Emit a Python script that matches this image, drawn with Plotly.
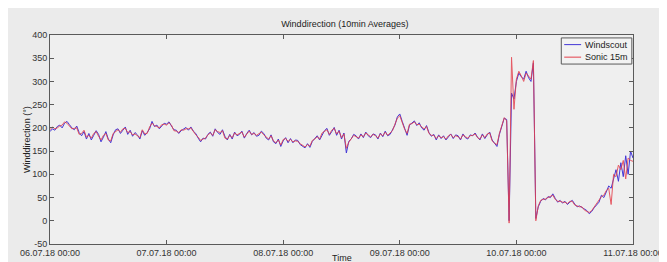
import pandas as pd
import plotly.graph_objects as go

# 30-minute samples, 06.07.18 00:00 -> 11.07.18 00:00
windscout_day1 = [192,198, 195,203, 206,200, 210,214, 207,200, 196,204, 190,183, 192,176, 188,174, 184,194, 186,170, 180,192,
                  176,168, 185,196, 198,188, 195,202, 186,195, 182,190, 185,176, 194,184, 190,198, 214,203, 206,198, 204,210]
windscout_day2 = [208,213, 204,196, 195,188, 194,198, 201,195, 202,193, 188,178, 170,178, 176,186, 191,182, 198,190, 186,196,
                  182,174, 186,176, 191,183, 186,193, 178,188, 195,185, 190,182, 184,193, 188,178, 174,185, 170,166, 176,160]
windscout_day3 = [172,179, 168,177, 168,174, 173,164, 160,157, 166,158, 171,178, 183,174, 186,194, 199,184, 192,201, 184,195,
                  176,189, 146,171, 176,186, 183,176, 187,179, 191,183, 179,187, 185,176, 189,181, 193,183, 186,196, 206,224]
windscout_day4 = [230,214, 198,184, 206,211, 215,205, 211,200, 195,205, 190,182, 186,174, 185,177, 183,174, 180,187, 177,185,
                  183,174, 187,179, 176,185, 183,189, 180,174, 187,177, 185,191, 174,168, 160,186, 206,221, 218,0, 275,262]
windscout_day5 = [300,318, 310,305, 322,308, 300,340, 5,30, 42,48, 45,52, 50,58, 48,40, 44,38, 42,35, 40,44,
                  36,30, 32,28, 25,22, 15,20, 28,35, 40,55, 50,62, 75,70, 90,110, 85,125, 95,140, 100,150, 135]

sonic_day1 = [196,202, 198,200, 204,206, 213,210, 204,198, 199,200, 186,188, 195,180, 184,178, 188,192, 182,174, 184,188,
              174,172, 188,192, 196,191, 198,199, 190,192, 185,187, 182,179, 196,187, 188,202, 210,205, 203,200, 207,208]
sonic_day2 = [206,211, 206,194, 193,190, 196,195, 198,198, 200,191, 185,180, 173,176, 178,185, 189,184, 196,192, 190,194,
              178,176, 184,179, 189,185, 188,191, 180,187, 193,186, 188,184, 187,191, 185,180, 176,183, 172,168, 174,163]
sonic_day3 = [175,177, 171,175, 170,172, 171,166, 162,159, 164,161, 173,176, 181,176, 189,192, 196,186, 195,199, 187,193,
              179,187, 156,169, 178,184, 181,178, 185,181, 189,185, 181,186, 183,178, 187,183, 191,184, 188,194, 208,221]
sonic_day4 = [226,212, 197,188, 208,209, 213,207, 208,202, 198,203, 188,184, 184,177, 183,179, 181,176, 183,186, 179,183,
              181,176, 185,181, 178,183, 184,187, 179,176, 185,179, 187,189, 172,167, 164,188, 208,222, 215,-5, 352,240]
sonic_day5 = [305,322, 312,300, 318,312, 305,345, 0,32, 44,46, 47,50, 52,55, 46,42, 42,40, 40,37, 42,42,
              34,32, 30,30, 23,20, 18,22, 30,38, 45,52, 55,65, 70,35, 100,95, 120,110, 130,90, 135,130, 128]

windscout = windscout_day1 + windscout_day2 + windscout_day3 + windscout_day4 + windscout_day5
sonic = sonic_day1 + sonic_day2 + sonic_day3 + sonic_day4 + sonic_day5

series_names = ["Windscout", "Sonic 15m"]
tick_dates = ["2018-07-06", "2018-07-07", "2018-07-08", "2018-07-09", "2018-07-10", "2018-07-11"]
tick_labels = ["06.07.18 00:00", "07.07.18 00:00", "08.07.18 00:00", "09.07.18 00:00", "10.07.18 00:00", "11.07.18 00:00"]
y_ticks = [-50, 0, 50, 100, 150, 200, 250, 300, 350, 400]

times = pd.date_range("2018-07-06 00:00", periods=len(windscout), freq="30min")

FONT = "Liberation Sans, Arial, sans-serif"
AX = "#5a5a5a"
BLUE = "#4336d6"
RED = "#e5404c"

fig = go.Figure()
fig.add_trace(go.Scatter(x=times, y=windscout, mode="lines", name=series_names[0],
                         line=dict(color=BLUE, width=1), showlegend=False))
fig.add_trace(go.Scatter(x=times[:len(sonic)], y=sonic, mode="lines", name=series_names[1],
                         line=dict(color=RED, width=1), opacity=0.85, showlegend=False))

axis_common = dict(showline=True, linecolor=AX, linewidth=1, mirror="allticks",
                   ticks="inside", ticklen=4, tickcolor=AX, showgrid=False, zeroline=False,
                   tickfont=dict(family=FONT, size=9, color="#333333"))

fig.update_xaxes(range=[tick_dates[0], tick_dates[-1]], tickvals=tick_dates, ticktext=tick_labels,
                 **axis_common)
fig.update_yaxes(range=[-50, 400], tickvals=y_ticks, ticktext=[str(v) for v in y_ticks],
                 **axis_common)

# compact MATLAB-style legend box (paper coordinates)
lx0, lx1, ly0, ly1 = 0.877, 0.998, 0.861, 0.986
entry_y = [0.954, 0.894]
shapes = [dict(type="rect", xref="paper", yref="paper", x0=lx0, x1=lx1, y0=ly0, y1=ly1,
               line=dict(color=AX, width=1), fillcolor="#f2f2f2", layer="above")]
annotations = [
    dict(text="Time", xref="paper", yref="paper", x=0.5, y=-0.065, xanchor="center",
         yanchor="middle", showarrow=False, font=dict(family=FONT, size=9, color="#222222")),
    dict(text="Winddirection (°)", xref="paper", yref="paper", x=-0.0405, y=0.5,
         xanchor="center", yanchor="middle", textangle=-90, showarrow=False,
         font=dict(family=FONT, size=9, color="#222222")),
]
for name, col, ey in zip(series_names, [BLUE, RED], entry_y):
    shapes.append(dict(type="line", xref="paper", yref="paper", x0=0.882, x1=0.911, y0=ey, y1=ey,
                       line=dict(color=col, width=1), layer="above"))
    annotations.append(dict(text=name, xref="paper", yref="paper", x=0.914, y=ey, xanchor="left",
                            yanchor="middle", showarrow=False,
                            font=dict(family=FONT, size=9, color="#222222")))

fig.update_layout(
    width=667, height=262,
    margin=dict(l=41, r=34, t=27, b=19),
    paper_bgcolor="#ebebeb", plot_bgcolor="#efefef",
    font=dict(family=FONT, size=9, color="#222222"),
    title=dict(text="Winddirection (10min Averages)", x=0.505, xanchor="center",
               y=1 - 16 / 262, yanchor="middle", font=dict(family=FONT, size=9, color="#222222")),
    showlegend=False,
    shapes=shapes,
    annotations=annotations,
)

fig.write_html("out.html")
